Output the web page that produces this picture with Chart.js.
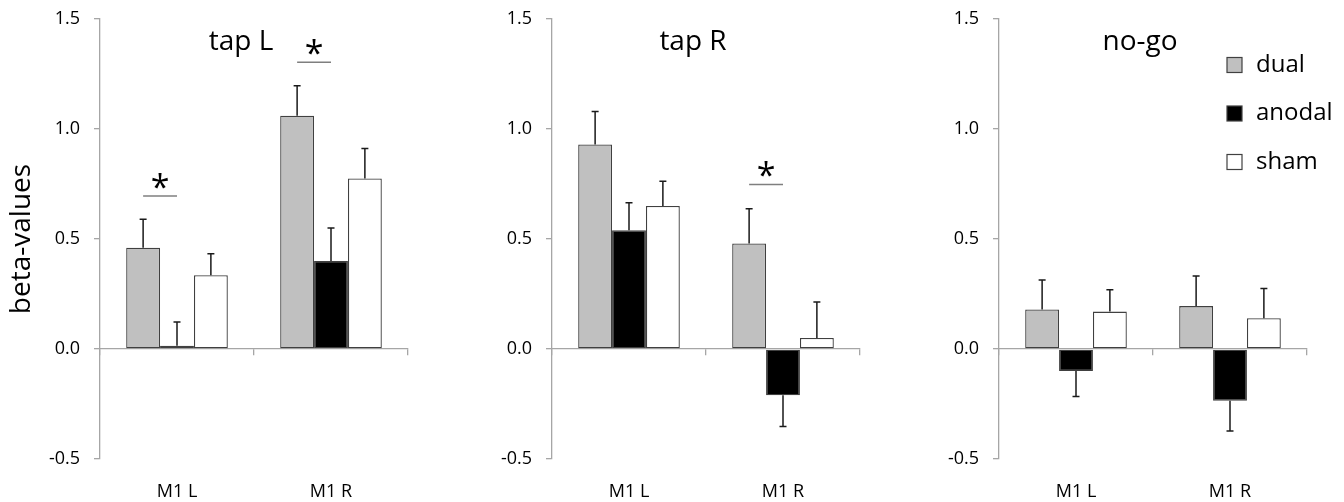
<!DOCTYPE html>
<html>
<head>
<meta charset="utf-8">
<script src="https://cdn.jsdelivr.net/npm/chart.js@4.4.1/dist/chart.umd.min.js"></script>
<style>
  html, body { margin: 0; padding: 0; background: #fff; }
  #wrap { position: relative; width: 1344px; height: 502px; overflow: hidden; }
  #wrap canvas { position: absolute; top: 0; }
</style>
</head>
<body>
<div id="wrap">
  <canvas id="c0" width="445" height="502" style="left:0px"></canvas>
  <canvas id="c1" width="445" height="502" style="left:452px"></canvas>
  <canvas id="c2" width="445" height="502" style="left:899px"></canvas>
</div>
<script>
// data (one entry per panel: tap L, tap R, no-go)
const categories = ["M1 L", "M1 R"];
const panelTitles = ["tap L", "tap R", "no-go"];
const seriesNames = ["dual", "anodal", "sham"];

const dualValues   = [[0.46, 1.06], [0.93, 0.48], [0.18, 0.195]];
const anodalValues = [[0.015, 0.40], [0.54, -0.21], [-0.10, -0.235]];
const shamValues   = [[0.335, 0.775], [0.65, 0.05], [0.17, 0.14]];

const dualErrors   = [[0.13, 0.137], [0.15, 0.157], [0.134, 0.137]];
const anodalErrors = [[0.108, 0.15], [0.125, 0.142], [0.116, 0.138]];
const shamErrors   = [[0.098, 0.136], [0.113, 0.164], [0.099, 0.135]];

// significance bars: category index and height of the bar (between dual and anodal)
const sigMarks = [
  [{ cat: 0, y: 0.695 }, { cat: 1, y: 1.303 }],
  [{ cat: 1, y: 0.748 }],
  []
];

const yTicks = [-0.5, 0.0, 0.5, 1.0, 1.5];

const FONT = '"Open Sans", sans-serif';
const AXIS_GREY = "#a6a6a6";

Chart.defaults.font.family = FONT;
Chart.defaults.font.size = 18;
Chart.defaults.color = "#000";

// error bars, always pointing away from zero
const errorBars = {
  id: "errorBars",
  afterDatasetsDraw(chart) {
    const ctx = chart.ctx;
    const y = chart.scales.y;
    ctx.save();
    ctx.strokeStyle = "#1a1a1a";
    ctx.lineWidth = 1.5;
    chart.data.datasets.forEach((ds, i) => {
      chart.getDatasetMeta(i).data.forEach((bar, j) => {
        const v = ds.data[j];
        const end = v >= 0 ? v + ds.errors[j] : v - ds.errors[j];
        const y0 = y.getPixelForValue(v);
        const y1 = y.getPixelForValue(end);
        ctx.beginPath();
        ctx.moveTo(bar.x, y0);
        ctx.lineTo(bar.x, y1);
        ctx.moveTo(bar.x - 3.5, y1);
        ctx.lineTo(bar.x + 3.5, y1);
        ctx.stroke();
      });
    });
    ctx.restore();
  }
};

const sigBars = {
  id: "sigBars",
  afterDatasetsDraw(chart, args, opts) {
    const ctx = chart.ctx;
    const y = chart.scales.y;
    ctx.save();
    (opts.marks || []).forEach(m => {
      const a = chart.getDatasetMeta(0).data[m.cat];
      const b = chart.getDatasetMeta(1).data[m.cat];
      const py = y.getPixelForValue(m.y);
      ctx.strokeStyle = "#7f7f7f";
      ctx.lineWidth = 1.5;
      ctx.beginPath();
      ctx.moveTo(a.x, py);
      ctx.lineTo(b.x, py);
      ctx.stroke();
      ctx.fillStyle = "#000";
      ctx.font = "34px " + FONT;
      ctx.textAlign = "center";
      ctx.textBaseline = "alphabetic";
      ctx.fillText("*", (a.x + b.x) / 2, py + 3);
    });
    ctx.restore();
  }
};

const heading = {
  id: "heading",
  afterDraw(chart, args, opts) {
    const ctx = chart.ctx;
    const area = chart.chartArea;
    ctx.save();
    ctx.fillStyle = "#000";
    ctx.font = "28px " + FONT;
    ctx.textAlign = "center";
    ctx.textBaseline = "alphabetic";
    ctx.fillText(opts.text, (area.left + area.right) / 2 - 13, area.top + 31);
    ctx.restore();
  }
};

const boxLegend = {
  id: "boxLegend",
  afterDraw(chart, args, opts) {
    if (!opts.show) return;
    const ctx = chart.ctx;
    const area = chart.chartArea;
    ctx.save();
    ctx.font = "24px " + FONT;
    ctx.textBaseline = "middle";
    ctx.textAlign = "left";
    chart.data.datasets.forEach((ds, i) => {
      const cy = area.top + 46 + i * 48.5;
      const bx = area.left + 228;
      ctx.fillStyle = ds.backgroundColor;
      ctx.fillRect(bx, cy - 7.5, 15, 15);
      ctx.strokeStyle = "#404040";
      ctx.lineWidth = 1.2;
      ctx.strokeRect(bx, cy - 7.5, 15, 15);
      ctx.fillStyle = "#000";
      ctx.fillText(ds.label, bx + 29, cy);
    });
    ctx.restore();
  }
};

function makePanel(p) {
  const ctx = document.getElementById("c" + p).getContext("2d");
  const values = [dualValues[p], anodalValues[p], shamValues[p]];
  const errors = [dualErrors[p], anodalErrors[p], shamErrors[p]];
  const fills = ["#c0c0c0", "#000000", "#ffffff"];

  return new Chart(ctx, {
    type: "bar",
    data: {
      labels: categories,
      datasets: seriesNames.map((name, i) => ({
        label: name,
        data: values[i],
        errors: errors[i],
        backgroundColor: fills[i],
        borderColor: "#404040",
        borderWidth: 1.3,
        borderSkipped: false,
        categoryPercentage: 0.66,
        barPercentage: 1.0,
        xAxisID: "x"
      }))
    },
    options: {
      responsive: false,
      animation: false,
      layout: { padding: { left: 0, right: 37, top: 19, bottom: 0 } },
      plugins: {
        legend: { display: false },
        tooltip: { enabled: false },
        heading: { text: panelTitles[p] },
        sigBars: { marks: sigMarks[p] },
        boxLegend: { show: p === 2 }
      },
      scales: {
        x: {
          type: "category",
          position: "bottom",
          offset: true,
          grid: { display: false, drawTicks: false },
          border: { display: false },
          ticks: { color: "#000", padding: 22, font: { family: FONT, size: 18 } },
          afterFit(scale) {
            scale.height = 43;
            scale.paddingLeft = 0;
            scale.paddingRight = 0;
          }
        },
        xz: {
          type: "category",
          position: { y: 0 },
          offset: true,
          grid: {
            offset: true,
            drawOnChartArea: false,
            drawTicks: true,
            tickLength: 6,
            color: AXIS_GREY,
            lineWidth: 1.3
          },
          border: { display: true, color: AXIS_GREY, width: 1.3 },
          ticks: { display: false }
        },
        y: {
          min: -0.5,
          max: 1.5,
          afterBuildTicks(scale) {
            scale.ticks = yTicks.map(v => ({ value: v }));
          },
          grid: {
            drawOnChartArea: false,
            drawTicks: true,
            tickLength: 6,
            tickColor: AXIS_GREY,
            lineWidth: 1.3
          },
          border: { display: true, color: AXIS_GREY, width: 1.3 },
          ticks: {
            color: "#000",
            padding: 14,
            font: { family: FONT, size: 18 },
            callback: v => Number(v).toFixed(1)
          },
          title: {
            display: p === 0,
            text: "beta-values",
            color: "#000",
            font: { family: FONT, size: 28 },
            padding: { top: 5, bottom: 0 }
          },
          afterFit(scale) {
            scale.width = 100;
            scale.paddingTop = 0;
            scale.paddingBottom = 0;
          }
        }
      }
    },
    plugins: [errorBars, sigBars, heading, boxLegend]
  });
}

[0, 1, 2].forEach(makePanel);
</script>
</body>
</html>
